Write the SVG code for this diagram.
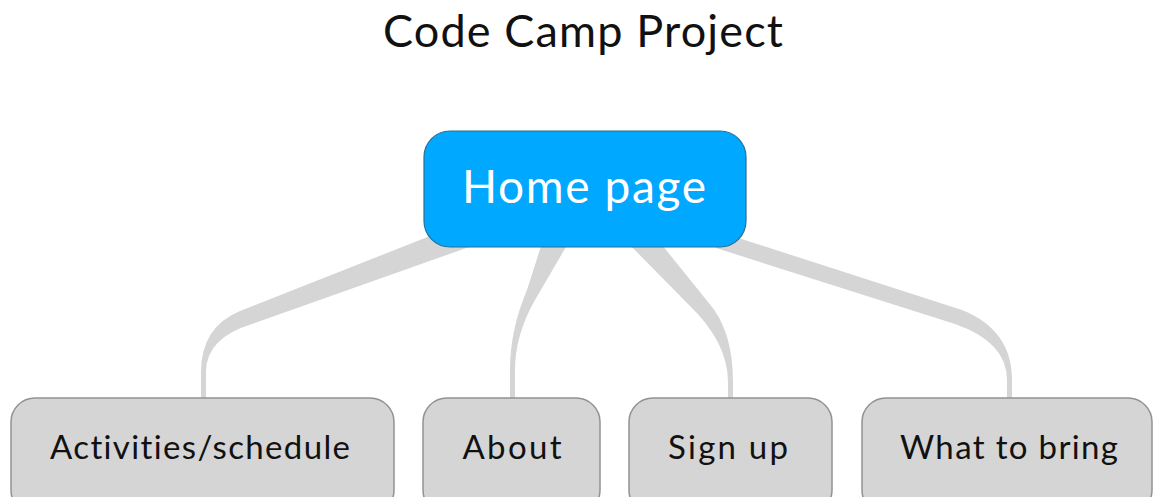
<svg xmlns="http://www.w3.org/2000/svg" width="1153" height="497" viewBox="0 0 1153 497">
<style>
  text { font-variant-ligatures: none; }
  .title { font-family: Lato, "Noto Sans", sans-serif; font-size: 45px; fill: #111; text-anchor: middle; }
  .conn { fill: #d5d5d5; stroke: none; }
  .root rect { fill: #00a8ff; stroke: #2a6f95; stroke-width: 1.2; }
  .root text { font-family: Lato, "Noto Sans", sans-serif; font-size: 46px; fill: #ffffff; text-anchor: middle; }
  .leaf rect { fill: #d5d5d5; stroke: #929292; stroke-width: 1.5; }
  .leaf text { font-family: Lato, "Noto Sans", sans-serif; font-size: 33px; fill: #111; text-anchor: middle; }
</style>
<rect width="1153" height="497" fill="#ffffff"/>
<text class="title" x="583" y="47" textLength="400" lengthAdjust="spacing">Code Camp Project</text>
<g id="connectors">
  <path class="conn" d="M430 236 L240 311 Q201 327 201 372 L201 400 L206 400 L206 372 Q206 338 252 324 L472 246 Z"/>
  <path class="conn" d="M543 240 L527 290 Q510 330 510 370 L510 400 L515 400 L515 370 Q515 335 535 300 L570 240 Z"/>
  <path class="conn" d="M625 240 L688 304 Q728 342 728 382 L728 400 L733 400 L733 382 Q733 330 708 302 L658 240 Z"/>
  <path class="conn" d="M720 232 L962 310 Q1012 330 1012 380 L1012 400 L1007 400 L1007 380 Q1007 342 955 324 L716 248 Z"/>
</g>
<g id="node-home" class="root">
  <rect x="424" y="131" width="322" height="116" rx="26" ry="26"/>
  <text x="584" y="203" textLength="244" lengthAdjust="spacing">Home page</text>
</g>
<g id="node-activities" class="leaf">
  <rect x="11" y="398" width="383" height="116" rx="24" ry="24"/>
  <text x="200" y="459" textLength="300" lengthAdjust="spacing">Activities/schedule</text>
</g>
<g id="node-about" class="leaf">
  <rect x="423" y="398" width="177" height="116" rx="24" ry="24"/>
  <text x="512" y="459" textLength="99" lengthAdjust="spacing">About</text>
</g>
<g id="node-signup" class="leaf">
  <rect x="629" y="398" width="203" height="116" rx="24" ry="24"/>
  <text x="728" y="459" textLength="120" lengthAdjust="spacing">Sign up</text>
</g>
<g id="node-bring" class="leaf">
  <rect x="862" y="398" width="290" height="116" rx="24" ry="24"/>
  <text x="1009" y="459" textLength="218" lengthAdjust="spacing">What to bring</text>
</g>
</svg>
